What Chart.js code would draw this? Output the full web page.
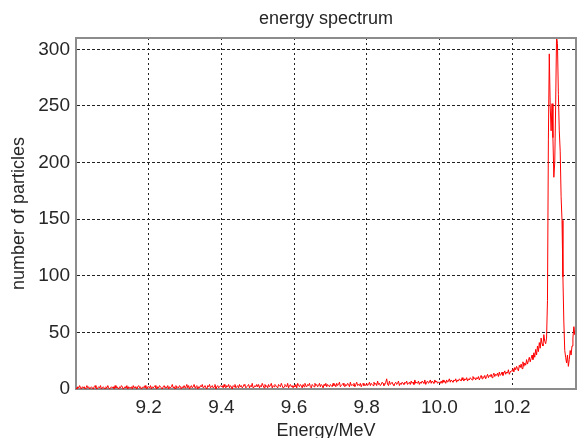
<!DOCTYPE html>
<html>
<head>
<meta charset="utf-8">
<script src="https://cdn.jsdelivr.net/npm/chart.js@4.4.1/dist/chart.umd.min.js"></script>
<style>
  body { margin: 0; background: #fff; }
  canvas { display: block; }
</style>
</head>
<body>
<canvas id="spectrumChart" width="577" height="438"></canvas>
<script>
// energy bins: first bin and bin width (MeV)
const ENERGY_START = 9.0;
const ENERGY_STEP = 0.0025;

// counts per bin, one row per 0.1 MeV
const counts = [
    1,0,2,1,3,1,0,2,1,2,0,1,3,1,2,0,1,2,1,0,2,3,1,0,1,2,1,3,0,1,2,1,0,2,1,3,1,0,1,2,
    1,2,0,3,1,2,1,0,2,1,3,2,0,1,2,1,3,0,2,1,1,2,0,3,1,2,1,0,2,3,1,2,0,1,2,1,3,1,0,2,
    2,1,3,0,2,1,2,3,1,0,2,1,3,2,1,0,2,3,1,2,1,3,0,2,1,2,4,1,2,0,3,1,2,1,3,2,0,2,1,3,
    1,2,4,1,3,0,2,3,1,2,4,1,2,3,0,2,1,3,2,4,1,2,3,1,0,3,2,4,1,2,3,1,2,4,0,2,3,1,2,3,
    2,3,1,4,2,1,3,2,4,1,3,2,0,3,2,4,1,2,3,1,4,2,3,1,2,4,3,1,2,3,4,1,3,2,5,1,2,3,2,4,
    2,4,1,3,2,5,3,1,4,2,3,1,4,2,3,5,1,3,2,4,3,2,1,4,3,2,5,3,1,2,4,3,2,5,1,3,4,2,3,1,
    3,2,4,1,5,3,2,4,3,1,4,2,5,3,2,4,3,5,2,1,4,3,2,5,3,4,2,3,5,2,4,3,1,4,3,5,2,4,3,2,
    4,3,2,5,3,4,2,5,3,4,6,2,3,4,5,3,2,4,3,5,4,2,6,3,4,3,5,2,4,6,3,4,3,5,2,4,5,3,4,3,
    5,3,4,6,3,5,4,3,6,4,5,3,7,4,5,3,4,6,5,3,4,6,9,4,3,7,4,5,6,4,3,5,6,4,5,7,3,5,4,6,
    5,4,6,5,7,4,5,6,4,7,5,6,4,8,5,6,5,7,4,6,5,7,6,5,8,4,6,7,5,6,8,5,7,6,5,8,6,7,5,6,
    6,5,7,5,8,6,7,5,8,6,7,9,6,8,7,6,8,7,9,6,8,7,9,8,7,10,8,7,9,8,10,7,9,8,10,9,8,11,9,10,
    8,10,9,11,8,10,12,9,11,10,12,9,11,13,10,12,11,13,10,12,14,11,13,12,14,11,15,12,13,15,12,14,16,13,15,14,17,13,15,16,
    16,18,15,19,17,20,18,16,21,19,22,18,24,20,23,21,26,22,25,28,24,27,30,26,32,28,35,30,38,33,41,36,45,40,38,48,42,40,45,78,
    220,296,250,228,252,222,187,200,250,312,305,260,228,210,170,149,99,60,34,28,23,30,20,26,34,30,38,45,55,48,58
];

const xTicks = [9.2, 9.4, 9.6, 9.8, 10, 10.2];
const yTicks = [0, 50, 100, 150, 200, 250, 300];
const X_MIN = 9.0;
const X_MAX = 10.376;
const Y_MAX = 310;

const points = counts.map((c, i) => ({ x: ENERGY_START + i * ENERGY_STEP, y: c }));

const FONT = 'Liberation Sans, Arial, sans-serif';
const TEXT = '#262626';
const FRAME = '#8c8c8c';

// grey box round the plot area (top and right sides)
const frameBox = {
    id: 'frameBox',
    afterDatasetsDraw(chart) {
        const a = chart.chartArea;
        const c = chart.ctx;
        c.save();
        c.strokeStyle = FRAME;
        c.lineWidth = 2;
        c.beginPath();
        c.moveTo(a.left, a.top);
        c.lineTo(a.right, a.top);
        c.lineTo(a.right, a.bottom);
        c.stroke();
        c.restore();
    }
};

new Chart(document.getElementById('spectrumChart'), {
    type: 'line',
    data: {
        datasets: [{
            data: points,
            borderColor: '#ff0000',
            borderWidth: 1,
            pointRadius: 0,
            tension: 0,
            fill: false
        }]
    },
    plugins: [frameBox],
    options: {
        responsive: false,
        animation: false,
        layout: { padding: { left: 0, right: 1, top: 0, bottom: 0 } },
        scales: {
            x: {
                type: 'linear',
                min: X_MIN,
                max: X_MAX,
                afterBuildTicks: (scale) => { scale.ticks = xTicks.map(v => ({ value: v })); },
                afterFit: (scale) => { scale.height = 49; },
                grid: { color: '#222', lineWidth: 1, drawTicks: false },
                border: { color: FRAME, width: 2, dash: [2, 3] },
                ticks: {
                    color: TEXT,
                    padding: 7,
                    font: { family: FONT, size: 19 },
                    maxRotation: 0,
                    autoSkip: false
                },
                title: {
                    display: true,
                    text: 'Energy/MeV',
                    color: TEXT,
                    padding: { top: 0, bottom: 0 },
                    font: { family: FONT, size: 18, lineHeight: 0.72 }
                }
            },
            y: {
                type: 'linear',
                min: 0,
                max: Y_MAX,
                afterBuildTicks: (scale) => { scale.ticks = yTicks.map(v => ({ value: v })); },
                afterFit: (scale) => { scale.width = 76; },
                grid: { color: '#222', lineWidth: 1, drawTicks: false },
                border: { color: FRAME, width: 2, dash: [3, 2] },
                ticks: {
                    color: TEXT,
                    padding: 6,
                    font: { family: FONT, size: 19 }
                },
                title: {
                    display: true,
                    text: 'number of particles',
                    color: TEXT,
                    padding: { top: 10, bottom: 0 },
                    font: { family: FONT, size: 18, lineHeight: 1 }
                }
            }
        },
        plugins: {
            legend: { display: false },
            tooltip: { enabled: false },
            title: {
                display: true,
                fullSize: false,
                text: 'energy spectrum',
                color: TEXT,
                padding: { top: 8, bottom: 8.4 },
                font: { family: FONT, size: 18, weight: 'normal' }
            }
        }
    }
});
</script>
</body>
</html>
